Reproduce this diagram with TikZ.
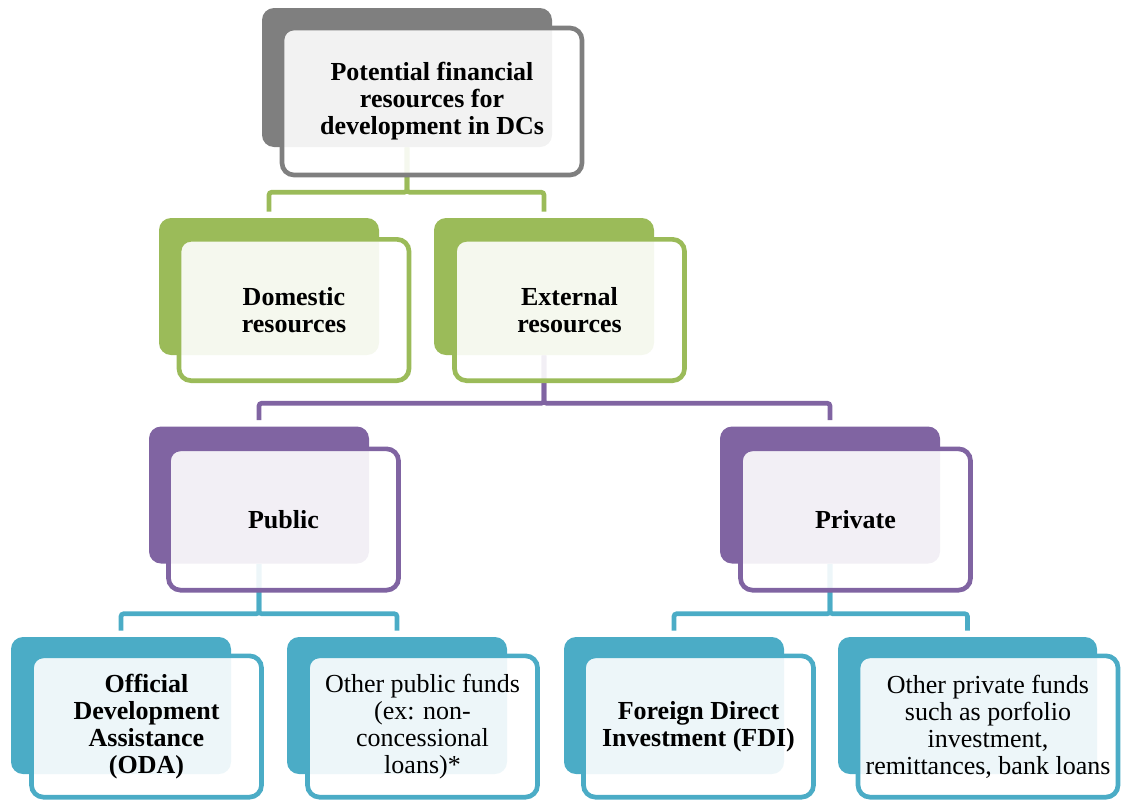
\documentclass[tikz,border=0pt]{standalone}
\usepackage{fontspec}
\setmainfont{Liberation Serif}
\usetikzlibrary{backgrounds}

\definecolor{rootgray}{HTML}{7F7F7F}
\definecolor{levgreen}{HTML}{9BBB59}
\definecolor{levpurple}{HTML}{8064A2}
\definecolor{levteal}{HTML}{4BACC6}

\tikzset{
    backbox/.style={
        rectangle,
        rounded corners=9pt,
        fill=#1,
        inner sep=0pt,
        minimum width=165pt,
        minimum height=102.75pt
        },
    frontbox/.style={
        rectangle,
        rounded corners=9pt,
        draw=#1,
        line width=3.5pt,
        fill=white,
        fill opacity=0.9,
        text opacity=1,
        inner sep=0pt,
        align=center,
        font=\fontsize{19.5}{20.3}\selectfont,
        minimum width=172.5pt,
        minimum height=106pt
        },
    link/.style={
        draw=#1,
        line width=3.5pt,
        rounded corners=2pt,
        shorten >=4.5pt
        }
}

\begin{document}
\begin{tikzpicture}[x=0.75pt,y=-0.75pt]
    \useasboundingbox (0,0) rectangle (1122,800);

    % top level
    \node[backbox=rootgray, minimum width=217.5pt, minimum height=104.25pt] (rootB) at (407,77.5) {};
    \node[frontbox=rootgray, minimum width=225pt, minimum height=110.25pt] (rootF) at (432,101.5)
        {\bfseries Potential financial\\\bfseries resources for\\\bfseries development in DCs};

    % second level
    \node[backbox=levgreen] (domB) at (269,286.5) {};
    \node[frontbox=levgreen] (domF) at (294,310) {\bfseries Domestic\\\bfseries resources};

    \node[backbox=levgreen] (extB) at (544,286.5) {};
    \node[frontbox=levgreen] (extF) at (569.5,310) {\bfseries External\\\bfseries resources};

    % third level
    \node[backbox=levpurple] (pubB) at (259,495) {};
    \node[frontbox=levpurple] (pubF) at (283.5,519.5) {\bfseries Public};

    \node[backbox=levpurple] (privB) at (830,495) {};
    \node[frontbox=levpurple] (privF) at (855.5,519.5) {\bfseries Private};

    % fourth level
    \node[backbox=levteal] (odaB) at (121,705.5) {};
    \node[frontbox=levteal] (odaF) at (146.5,726.5)
        {\bfseries Official\\\bfseries Development\\\bfseries Assistance\\\bfseries (ODA)};

    \node[backbox=levteal] (opfB) at (397,705.5) {};
    \node[frontbox=levteal] (opfF) at (422.5,726.5)
        {Other public funds\\(ex: non-\\concessional\\loans)*};

    \node[backbox=levteal] (fdiB) at (674,705.5) {};
    \node[frontbox=levteal] (fdiF) at (698.5,726.5)
        {\bfseries Foreign Direct\\\bfseries Investment (FDI)};

    \node[backbox=levteal, minimum width=194.25pt] (oprfB) at (967.5,705.5) {};
    \node[frontbox=levteal, minimum width=195pt] (oprfF) at (988,726.5)
        {Other private funds\\such as porfolio\\investment,\\remittances, bank loans};

    % connectors
    \begin{pgfonlayer}{background}
        \draw[link=levgreen] (rootB.south) -- ++(0,45) -| (domB.north);
        \draw[link=levgreen] (rootB.south) -- ++(0,45) -| (extB.north);

        \draw[link=levpurple] (extB.south) -- ++(0,48) -| (pubB.north);
        \draw[link=levpurple] (extB.south) -- ++(0,48) -| (privB.north);

        \draw[link=levteal] (pubB.south) -- ++(0,50) -| (odaB.north);
        \draw[link=levteal] (pubB.south) -- ++(0,50) -| (opfB.north);

        \draw[link=levteal] (privB.south) -- ++(0,50) -| (fdiB.north);
        \draw[link=levteal] (privB.south) -- ++(0,50) -| (oprfB.north);
    \end{pgfonlayer}

\end{tikzpicture}
\end{document}
